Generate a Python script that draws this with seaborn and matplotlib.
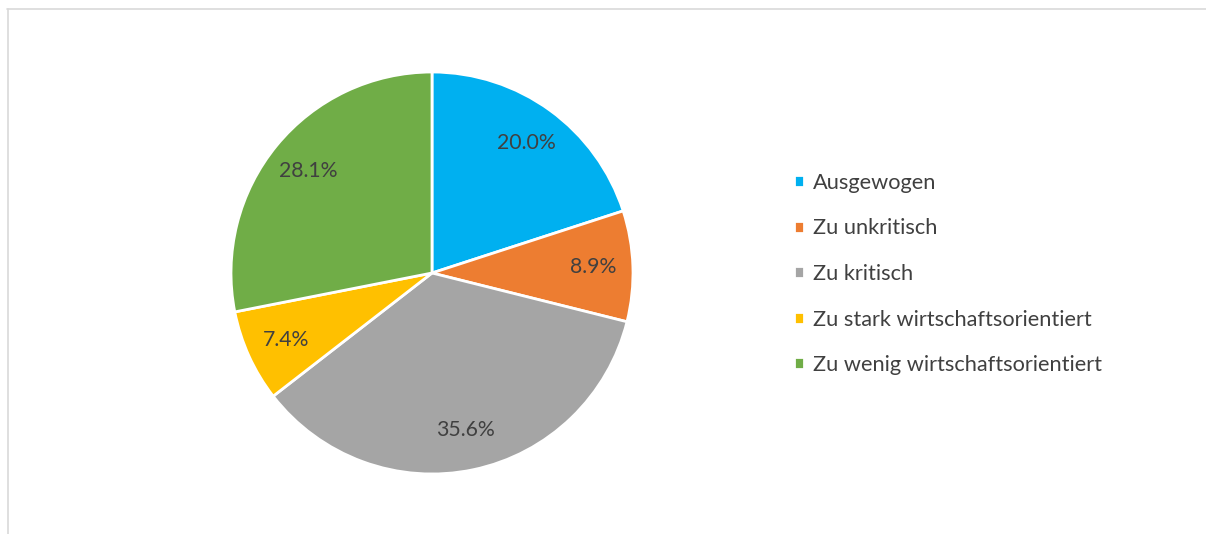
import matplotlib
matplotlib.use("Agg")
import matplotlib.pyplot as plt
import seaborn as sns
from matplotlib.lines import Line2D

# Anteile der Antworten (in %)
categories = ["Ausgewogen", "Zu unkritisch", "Zu kritisch",
              "Zu stark wirtschaftsorientiert", "Zu wenig wirtschaftsorientiert"]
shares = [20.0, 8.9, 35.6, 7.4, 28.1]
colors = ["#00B0F0", "#ED7D31", "#A5A5A5", "#FFC000", "#70AD47"]

sns.set_theme(style="white")
plt.rcParams["font.family"] = ["Lato", "DejaVu Sans"]

W, H = 1206, 534
fig = plt.figure(figsize=(W / 100, H / 100), dpi=100)

cx, cy, r = 432, 273, 201
ax = fig.add_axes([(cx - r) / W, (H - cy - r) / H, 2 * r / W, 2 * r / H])
wedges, texts, autotexts = ax.pie(
    shares, colors=colors, startangle=90, counterclock=False,
    autopct="%.1f%%", pctdistance=0.8,
    wedgeprops=dict(edgecolor="white", linewidth=2),
    textprops=dict(color="#404040", fontsize=15.3),
)
ax.set_xlim(-1, 1)
ax.set_ylim(-1, 1)
ax.set_aspect("equal")
ax.axis("off")

fig.legend(wedges, categories, loc="center left",
           bbox_to_anchor=(794 / W, 1 - 274 / H), frameon=False,
           fontsize=15.7, labelcolor="#404040",
           handlelength=0.45, handleheight=0.45, handletextpad=0.4,
           labelspacing=1.17, borderaxespad=0, borderpad=0)

# heller Rahmen (oben und links)
fig.add_artist(Line2D([7 / W, 1], [1 - 8.5 / H, 1 - 8.5 / H],
                      color="#d9d9d9", linewidth=1.2))
fig.add_artist(Line2D([7.5 / W, 7.5 / W], [0, 1 - 8.5 / H],
                      color="#d9d9d9", linewidth=1.2))

fig.savefig("out.png", dpi=100)
